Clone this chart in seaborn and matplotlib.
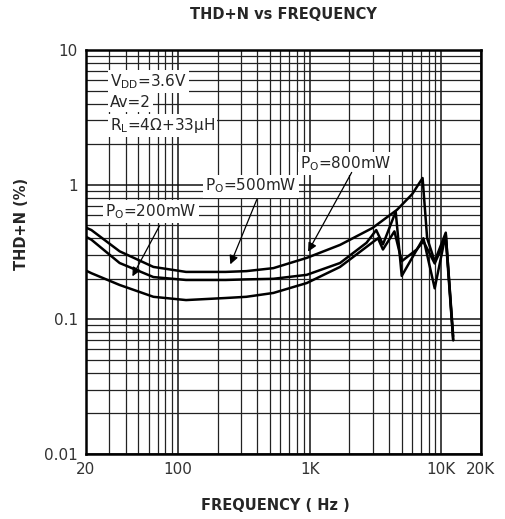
import matplotlib
matplotlib.use("Agg")
import matplotlib.pyplot as plt
import matplotlib.ticker as mticker
import seaborn as sns
import pandas as pd

# values (THD+N in %, frequency in Hz)
freq_200 = [20, 22, 36, 65, 115, 230, 330, 530, 950, 1700, 2700, 3300, 3600, 4400, 5000, 6500, 7300, 8900, 10800, 12300]
thd_200 = [0.23, 0.22, 0.18, 0.147, 0.139, 0.144, 0.147, 0.157, 0.186, 0.245, 0.345, 0.40, 0.33, 0.45, 0.27, 0.33, 0.38, 0.26, 0.40, 0.07]

freq_500 = [20, 22, 36, 65, 115, 230, 330, 530, 950, 1700, 2700, 3200, 3600, 4500, 5000, 7300, 8900, 10800, 12300]
thd_500 = [0.41, 0.39, 0.262, 0.206, 0.196, 0.196, 0.198, 0.20, 0.214, 0.262, 0.37, 0.46, 0.36, 0.63, 0.21, 0.40, 0.17, 0.43, 0.075]

freq_800 = [20, 22, 36, 65, 115, 230, 330, 530, 950, 1700, 3000, 4600, 6000, 7200, 7800, 8900, 10800, 12300]
thd_800 = [0.48, 0.46, 0.32, 0.245, 0.225, 0.225, 0.228, 0.24, 0.286, 0.357, 0.477, 0.65, 0.85, 1.12, 0.40, 0.27, 0.44, 0.07]

series = [("200mW", freq_200, thd_200), ("500mW", freq_500, thd_500), ("800mW", freq_800, thd_800)]

x_ticks = [20, 100, 1000, 10000, 20000]
x_labels = ["20", "100", "1K", "10K", "20K"]
y_ticks = [0.01, 0.1, 1, 10]
y_labels = ["0.01", "0.1", "1", "10"]

sns.set_style("white")
plt.rcParams["font.family"] = ["DejaVu Sans"]
plt.rcParams["mathtext.default"] = "regular"

fig = plt.figure(figsize=(5.06, 5.19), dpi=100)
ax = fig.add_axes([86 / 506, 1 - 454 / 519, 395 / 506, 404 / 519])

for name, f, v in series:
    df = pd.DataFrame({"freq": f, "thd": v})
    sns.lineplot(data=df, x="freq", y="thd", color="black", linewidth=1.8, ax=ax, zorder=3)

ax.set_xscale("log")
ax.set_yscale("log")
ax.set_xlim(20, 20000)
ax.set_ylim(0.01, 10)

ax.set_xticks(x_ticks)
ax.set_xticklabels(x_labels, fontsize=11, color="#333")
ax.set_yticks(y_ticks)
ax.set_yticklabels(y_labels, fontsize=11, color="#333")
ax.xaxis.set_minor_locator(mticker.LogLocator(base=10, subs=range(2, 10), numticks=20))
ax.yaxis.set_minor_locator(mticker.LogLocator(base=10, subs=range(2, 10), numticks=20))
ax.xaxis.set_minor_formatter(mticker.NullFormatter())
ax.yaxis.set_minor_formatter(mticker.NullFormatter())
ax.tick_params(which="both", length=0, pad=6)

ax.set_axisbelow(True)
ax.grid(True, which="major", color="#111", linewidth=1.1)
ax.grid(True, which="minor", color="#222", linewidth=0.9)
for s in ax.spines.values():
    s.set_linewidth(1.8)
    s.set_color("black")

ax.set_title("THD+N vs FREQUENCY", fontsize=10.5, fontweight="bold", pad=22)
ax.set_xlabel("FREQUENCY ( Hz )", fontsize=10.5, fontweight="bold")
ax.xaxis.set_label_coords(0.48, -0.11)
ax.set_ylabel("THD+N (%)", fontsize=10.5, fontweight="bold")
ax.yaxis.set_label_coords(-0.145, 0.57)

# test conditions
box = dict(facecolor="white", edgecolor="none", pad=1.5)
ax.text(0.061, 0.921, "V$_{DD}$=3.6V", transform=ax.transAxes, fontsize=11, va="center", bbox=box, zorder=4)
ax.text(0.061, 0.871, "Av=2", transform=ax.transAxes, fontsize=11, va="center", bbox=box, zorder=4)
ax.text(0.061, 0.814, "R$_L$=4\u03a9+33\u03bcH", transform=ax.transAxes, fontsize=11, va="center", bbox=box, zorder=4)

# curve labels with arrows
labels = [("P$_O$=200mW", (0.048, 0.601), (0.19, 0.572), (44, 0.20)),
          ("P$_O$=500mW", (0.301, 0.663), (0.435, 0.636), (245, 0.245)),
          ("P$_O$=800mW", (0.542, 0.718), (0.676, 0.703), (950, 0.305))]
for txt, tpos, tail, head in labels:
    ax.text(tpos[0], tpos[1], txt, transform=ax.transAxes, fontsize=11, va="center", bbox=box, zorder=4)
    ax.annotate("", xy=head, xycoords="data", xytext=tail, textcoords="axes fraction",
                arrowprops=dict(arrowstyle="-|>", color="black", lw=0.9, mutation_scale=13), zorder=5)

fig.savefig("out.png", dpi=100)
plt.close(fig)
